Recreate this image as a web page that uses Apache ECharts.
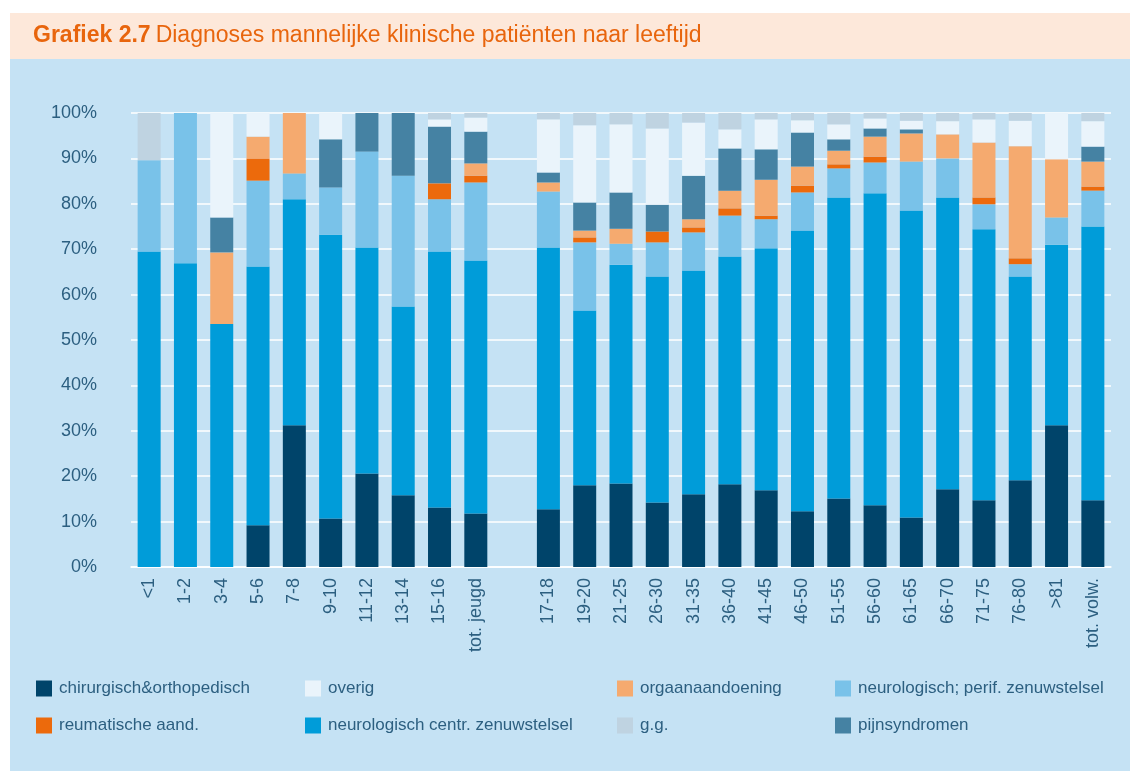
<!DOCTYPE html>
<html>
<head>
<meta charset="utf-8">
<script src="https://cdn.jsdelivr.net/npm/echarts@6/dist/echarts.min.js"></script>
<style>
  body { margin: 0; background: #ffffff; }
  #band { position: absolute; left: 10px; top: 13px; width: 1120px; height: 46px; background: #fde8da; }
  #panel { position: absolute; left: 10px; top: 59px; width: 1120px; height: 712px; background: #c5e2f4; }
  #main { position: absolute; left: 0; top: 0; width: 1130px; height: 771px; }
</style>
</head>
<body>
<div id="band"></div>
<div id="panel"></div>
<div id="main"></div>
<script>
// leeftijdsgroepen (lege kolom tussen jeugd en volwassenen)
const categories = ['<1', '1-2', '3-4', '5-6', '7-8', '9-10', '11-12', '13-14', '15-16', 'tot. jeugd', '',
  '17-18', '19-20', '21-25', '26-30', '31-35', '36-40', '41-45', '46-50', '51-55', '56-60',
  '61-65', '66-70', '71-75', '76-80', '>81', 'tot. volw.'];

// percentages per diagnosegroep, van onder naar boven gestapeld
const chirurgisch = [0, 0, 0, 9.2, 31.2, 10.7, 20.6, 15.8, 13.1, 11.8, '-',
  12.7, 18.0, 18.4, 14.2, 16.0, 18.2, 16.9, 12.3, 15.1, 13.6, 10.9, 17.1, 14.7, 19.1, 31.2, 14.7];
const neuroCentr = [69.5, 66.9, 53.5, 57.0, 49.8, 62.5, 49.8, 41.6, 56.4, 55.7, '-',
  57.7, 38.5, 48.2, 49.8, 49.3, 50.2, 53.3, 61.8, 66.3, 68.7, 67.6, 64.3, 59.7, 44.9, 39.8, 60.3];
const neuroPerif = [20.1, 33.1, 0, 18.9, 5.7, 10.4, 21.1, 28.8, 11.5, 17.2, '-',
  12.3, 15.0, 4.6, 7.5, 8.4, 9.0, 6.4, 8.4, 6.4, 6.8, 10.8, 8.6, 5.5, 2.7, 6.0, 7.9];
const reumatisch = [0, 0, 0, 4.9, 0, 0, 0, 0, 3.5, 1.5, '-',
  0, 1.1, 0, 2.4, 1.1, 1.6, 0.8, 1.5, 0.9, 1.3, 0, 0, 1.5, 1.3, 0, 0.9];
const orgaan = [0, 0, 15.8, 4.8, 13.3, 0, 0, 0, 0, 2.7, '-',
  2.0, 1.5, 3.3, 0, 1.8, 3.9, 7.9, 4.2, 3.0, 4.4, 6.2, 5.3, 12.1, 24.7, 12.8, 5.5];
const pijn = [0, 0, 7.7, 0, 0, 10.6, 8.5, 13.8, 12.5, 7.0, '-',
  2.2, 6.2, 8.0, 5.9, 9.6, 9.3, 6.7, 7.5, 2.5, 1.8, 0.9, 0, 0, 0, 0, 3.3];
const overig = [0, 0, 23.0, 5.2, 0, 5.8, 0, 0, 1.6, 3.1, '-',
  11.7, 17.0, 15.0, 16.8, 11.7, 4.2, 6.6, 2.7, 3.3, 2.2, 1.9, 2.9, 5.1, 5.6, 10.2, 5.6];
const gg = [10.4, 0, 0, 0, 0, 0, 0, 0, 1.4, 1.0, '-',
  1.4, 2.7, 2.5, 3.4, 2.1, 3.6, 1.4, 1.6, 2.5, 1.2, 1.7, 1.8, 1.4, 1.7, 0, 1.8];

const yTicks = [0, 10, 20, 30, 40, 50, 60, 70, 80, 90, 100];

const textColor = '#2c5f80';
const font = 'Liberation Sans, Arial, sans-serif';

const seriesDefs = [
  { name: 'chirurgisch&orthopedisch', data: chirurgisch, color: '#00446a' },
  { name: 'neurologisch centr. zenuwstelsel', data: neuroCentr, color: '#009cd9' },
  { name: 'neurologisch; perif. zenuwstelsel', data: neuroPerif, color: '#79c2e9' },
  { name: 'reumatische aand.', data: reumatisch, color: '#ec6a0c' },
  { name: 'orgaanaandoening', data: orgaan, color: '#f5aa6f' },
  { name: 'pijnsyndromen', data: pijn, color: '#4582a3' },
  { name: 'overig', data: overig, color: '#eaf4fb' },
  { name: 'g.g.', data: gg, color: '#bfd3e1' }
];

function legendCol(left, names) {
  return {
    left: left,
    top: 680,
    padding: 0,
    orient: 'vertical',
    icon: 'rect',
    itemWidth: 16,
    itemHeight: 16,
    itemGap: 20,
    selectedMode: false,
    data: names,
    textStyle: { color: textColor, fontSize: 17, fontFamily: font, padding: [0, 0, 0, 2] }
  };
}

const chart = echarts.init(document.getElementById('main'), null, { renderer: 'canvas' });

chart.setOption({
  backgroundColor: 'transparent',
  animation: false,
  title: {
    left: 33,
    top: 24,
    padding: 0,
    text: '{a|Grafiek 2.7} {b|Diagnoses mannelijke klinische patiënten naar leeftijd}',
    textStyle: {
      fontWeight: 'normal',
      rich: {
        a: { fontSize: 23, fontWeight: 'bold', color: '#e8650d', fontFamily: font },
        b: { fontSize: 23, fontWeight: 'normal', color: '#e8650d', fontFamily: font }
      }
    }
  },
  legend: [
    legendCol(36, ['chirurgisch&orthopedisch', 'reumatische aand.']),
    legendCol(305, ['overig', 'neurologisch centr. zenuwstelsel']),
    legendCol(617, ['orgaanaandoening', 'g.g.']),
    legendCol(835, ['neurologisch; perif. zenuwstelsel', 'pijnsyndromen'])
  ],
  grid: {
    left: 131,
    right: 19,
    top: 113,
    bottom: 204,
    containLabel: false
  },
  xAxis: {
    type: 'category',
    data: categories,
    axisLine: { show: true, lineStyle: { color: '#ffffff', width: 1.5 } },
    axisTick: { show: false },
    axisLabel: {
      interval: 0,
      rotate: 90,
      margin: 11,
      color: textColor,
      fontSize: 18,
      fontFamily: font
    }
  },
  yAxis: {
    type: 'value',
    min: yTicks[0],
    max: yTicks[yTicks.length - 1],
    interval: 10,
    axisLine: { show: false },
    axisTick: { show: false },
    splitLine: { lineStyle: { color: '#ffffff', width: 1.5 } },
    axisLabel: {
      margin: 34,
      color: textColor,
      fontSize: 18,
      fontFamily: font,
      formatter: '{value}%'
    }
  },
  series: seriesDefs.map(function (s) {
    return {
      name: s.name,
      type: 'bar',
      stack: 'totaal',
      barWidth: 23,
      data: s.data,
      itemStyle: { color: s.color }
    };
  })
});
</script>
</body>
</html>
